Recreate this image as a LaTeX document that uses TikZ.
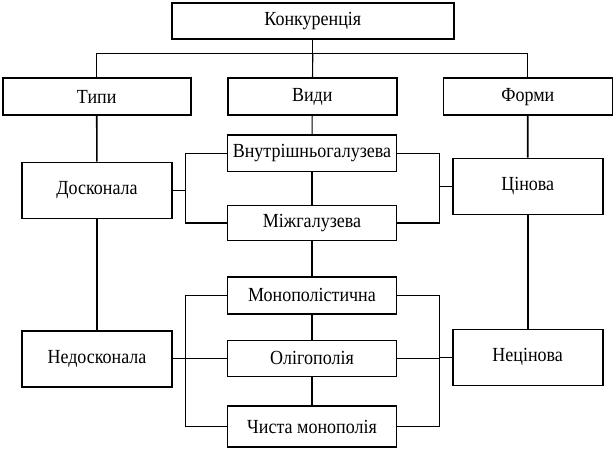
\documentclass[tikz,border=0pt]{standalone}
\usepackage{fontspec}
\setmainfont{Liberation Serif}[FakeStretch=0.9]
\usepackage{tikz}
\usetikzlibrary{ positioning, % For easy node-relative placements
               }
\tikzstyle{box} = [rectangle, draw=black, line width=1.6pt, text centered, inner sep=0pt, font=\fontsize{20}{22}\selectfont]
\tikzstyle{wide} = [box, minimum width=169pt, minimum height=37pt]
\tikzstyle{side} = [box, minimum width=150pt, minimum height=56pt]
\tikzstyle{link} = [draw=black, line width=1.1pt]
\tikzstyle{trunk} = [draw=black, line width=1.6pt]

\begin{document}
\begin{tikzpicture}[x=1pt, y=-1pt]
  \useasboundingbox (0, 0) rectangle (616, 451);
  \node (konk) [box, minimum width=282pt, minimum height=36pt] at (312.8, 21) {Конкуренція};
  \node (typy) [wide, minimum width=188pt] at (96.7, 96.7) {Типи};
  \node (vydy) [wide] at (312.3, 96.7) {Види};
  \node (formy) [wide] at (527.8, 96.7) {Форми};
  \coordinate (top) at (312.8, 53.3);
  \draw [link] (konk) -- (top);
  \draw [link] (typy.north) |- (top) -| (formy.north);
  \draw [link] (top) -- (vydy);

  % types
  \node (dosk) [side] at (97, 190.3) {Досконала};
  \node (nedosk) [side] at (97, 358.7) {Недосконала};
  \draw [trunk] (typy) -- (dosk);
  \draw [trunk] (dosk) -- (nedosk);

  % forms
  \node (tsin) [side] at (527.7, 186.3) {Цінова};
  \node (netsin) [side] at (527.7, 357.3) {Нецінова};
  \draw [trunk] (formy) -- (tsin);
  \draw [trunk] (tsin) -- (netsin);

  % kinds
  \node (vnutr) [wide, minimum height=36.7pt] at (312, 153.3) {Внутрішньогалузева};
  \node (mizh) [wide, minimum height=35pt] at (312, 223) {Міжгалузева};
  \node (monop) [wide] at (312, 295.3) {Монополістична};
  \node (olig) [wide, minimum height=36pt] at (312, 358.3) {Олігополія};
  \node (chysta) [wide, minimum height=41pt] at (312, 426.5) {Чиста монополія};
  \draw [link] (vydy) -- (vnutr);
  \draw [link] (vnutr) -- (mizh);
  \draw [link] (mizh) -- (monop);
  \draw [link] (monop) -- (olig);
  \draw [link] (olig) -- (chysta);

  \coordinate (lb) at (185.7, 0);
  \coordinate (rb) at (439.3, 0);
  \draw [link] (vnutr.west) -- (vnutr.west -| lb) -- (mizh.west -| lb) -- (mizh.west);
  \draw [link] (vnutr.east) -- (vnutr.east -| rb) -- (mizh.east -| rb) -- (mizh.east);
  \draw [link] (dosk.east) -- (dosk.east -| lb);
  \draw [link] (tsin.west) -- (tsin.west -| rb);
  \draw [link] (monop.west) -- (monop.west -| lb) -- (chysta.west -| lb) -- (chysta.west);
  \draw [link] (monop.east) -- (monop.east -| rb) -- (chysta.east -| rb) -- (chysta.east);
  \draw [link] (olig.west) -- (olig.west -| lb);
  \draw [link] (nedosk.east) -- (nedosk.east -| lb);
  \draw [link] (olig.east) -- (olig.east -| rb);
  \draw [link] (netsin.west) -- (netsin.west -| rb);
\end{tikzpicture}
\end{document}
